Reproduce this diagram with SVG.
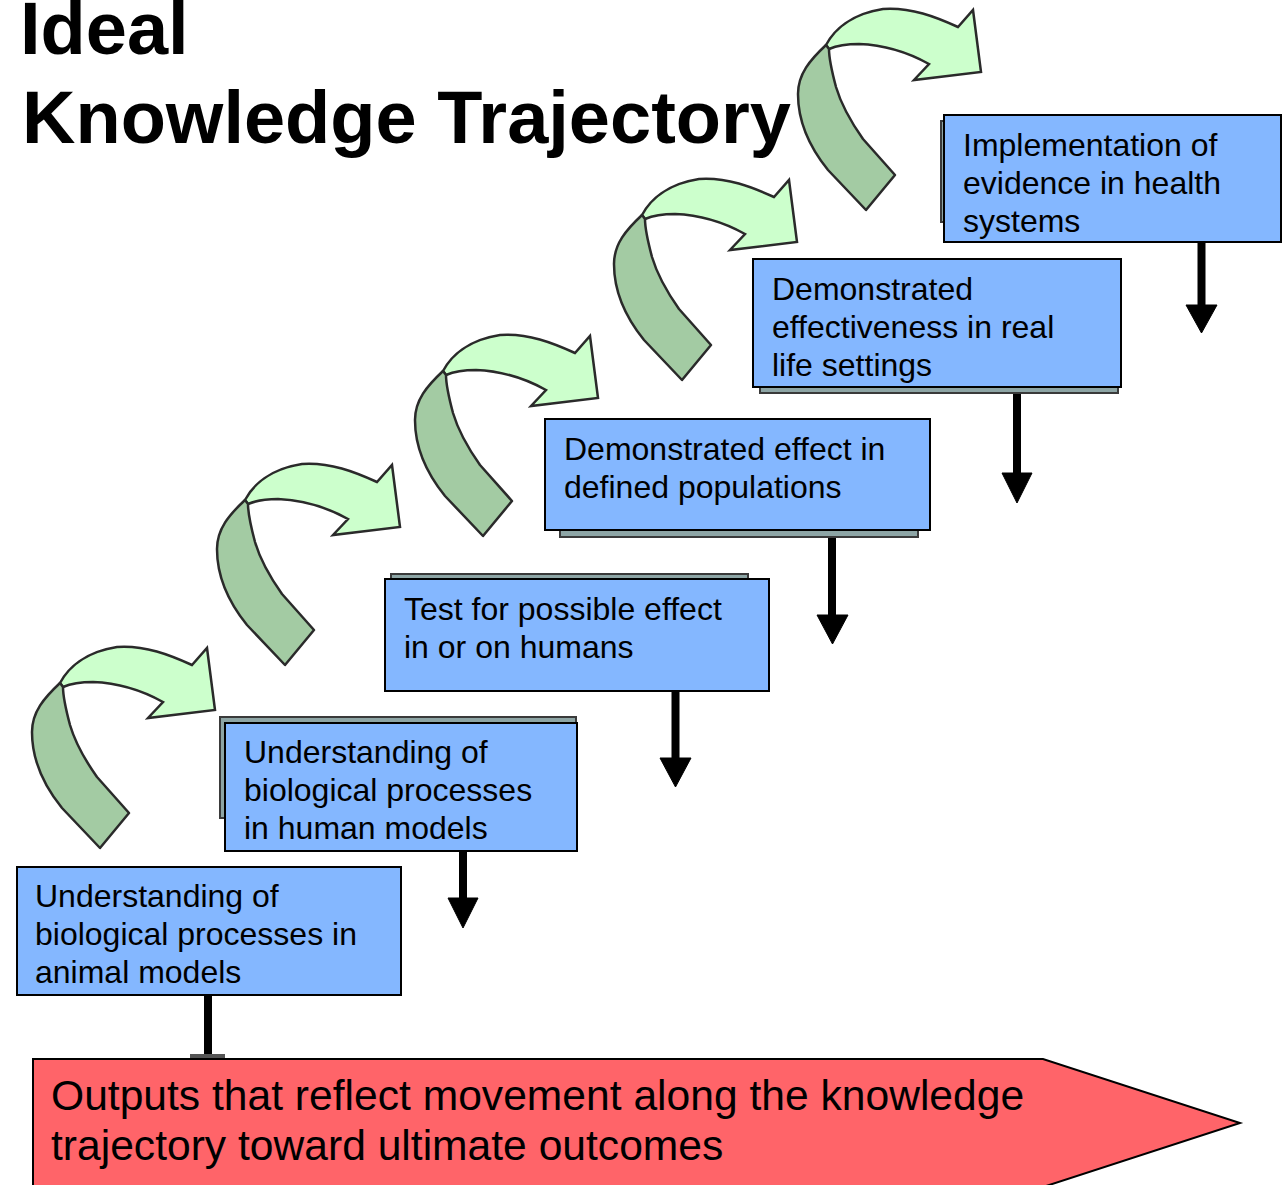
<svg xmlns="http://www.w3.org/2000/svg" width="1282" height="1185" viewBox="0 0 1282 1185">
<style>
.box{fill:#84B7FF;stroke:#000;stroke-width:2}
.shd{fill:#8DA5A5;stroke:#3a3a3a;stroke-width:2}
.t{font-family:"Liberation Sans",Arial,sans-serif;font-size:32px;fill:#000}
.title{font-family:"Liberation Sans",Arial,sans-serif;font-size:74px;font-weight:bold;fill:#000}
.rt{font-family:"Liberation Sans",Arial,sans-serif;font-size:42.6px;fill:#000}
.shaft{stroke:#000;stroke-width:8;fill:none}
.head{fill:#000;stroke:#000;stroke-width:1;stroke-linejoin:miter}
.dk{fill:#A3CBA3;stroke:#2a2a2a;stroke-width:2.5;stroke-linejoin:round}
.lt{fill:#CCFFCC;stroke:#2a2a2a;stroke-width:2.5;stroke-linejoin:miter}
</style>
<defs>
<g id="curve">
<path class="lt" d="M60,683 C68,668 85,652 117,647 C145,645 170,655 192,665 L207,648 L215,710 L148,718 L163,702 C145,692 120,683 93,682 C80,682 70,684 63,687 Z"/>
<path class="dk" d="M60,683 C44,698 32,712 32,732 C32,762 45,787 62,808 L100,848 L129,813 L97,777 C85,760 75,742 70,725 C66,710 63,698 63,687 Z"/>
</g>
</defs>
<rect width="1282" height="1185" fill="#fff"/>
<g id="title">
<text class="title" x="20" y="54">Ideal</text>
<text class="title" x="22" y="143">Knowledge Trajectory</text>
</g>
<g id="curved-arrows">
<use href="#curve"/>
<use href="#curve" transform="translate(185,-183)"/>
<use href="#curve" transform="translate(383,-312)"/>
<use href="#curve" transform="translate(582,-468)"/>
<use href="#curve" transform="translate(766,-638)"/>
</g>
<g id="connectors">
<line class="shaft" x1="208" y1="995" x2="208" y2="1058"/>
<rect x="190" y="1054" width="35" height="5" fill="#555"/>
<line class="shaft" x1="463" y1="851" x2="463" y2="900"/>
<polygon class="head" points="448,898 478,898 463,928"/>
<line class="shaft" x1="675.5" y1="691" x2="675.5" y2="760"/>
<polygon class="head" points="660,758 691,758 675.5,787"/>
<line class="shaft" x1="832" y1="537" x2="832" y2="617"/>
<polygon class="head" points="817,615 848,615 832.5,644"/>
<line class="shaft" x1="1017" y1="393" x2="1017" y2="475"/>
<polygon class="head" points="1002,473 1032,473 1017,503"/>
<line class="shaft" x1="1201.5" y1="243" x2="1201.5" y2="307"/>
<polygon class="head" points="1186,305 1217,305 1201.5,333"/>
</g>
<g id="node-animal">
<rect class="box" x="17" y="867" width="384" height="128"/>
<text class="t" x="35" y="907">Understanding of</text>
<text class="t" x="35" y="945">biological processes in</text>
<text class="t" x="35" y="983">animal models</text>
</g>
<g id="node-human">
<rect class="shd" x="220" y="717" width="356" height="101"/>
<rect class="box" x="225" y="723" width="352" height="128"/>
<text class="t" x="244" y="763">Understanding of</text>
<text class="t" x="244" y="801">biological processes</text>
<text class="t" x="244" y="839">in human models</text>
</g>
<g id="node-test">
<rect class="shd" x="391" y="574" width="357" height="50"/>
<rect class="box" x="385" y="579" width="384" height="112"/>
<text class="t" x="404" y="620">Test for possible effect</text>
<text class="t" x="404" y="658">in or on humans</text>
</g>
<g id="node-populations">
<rect class="shd" x="560" y="425" width="358" height="112"/>
<rect class="box" x="545" y="419" width="385" height="111"/>
<text class="t" x="564" y="460">Demonstrated effect in</text>
<text class="t" x="564" y="498">defined populations</text>
</g>
<g id="node-effectiveness">
<rect class="shd" x="760" y="265" width="358" height="128"/>
<rect class="box" x="753" y="259" width="368" height="128"/>
<text class="t" x="772" y="300">Demonstrated</text>
<text class="t" x="772" y="338">effectiveness in real</text>
<text class="t" x="772" y="376">life settings</text>
</g>
<g id="node-implementation">
<rect class="shd" x="941" y="121" width="100" height="101"/>
<rect class="box" x="944" y="115" width="337" height="127"/>
<text class="t" x="963" y="156">Implementation of</text>
<text class="t" x="963" y="194">evidence in health</text>
<text class="t" x="963" y="232">systems</text>
</g>
<g id="node-outputs">
<polygon points="33,1059 1043,1059 1240,1123 1043,1187 33,1187" fill="#FF6469" stroke="#000" stroke-width="2"/>
<text class="rt" x="51" y="1110">Outputs that reflect movement along the knowledge</text>
<text class="rt" x="51" y="1160">trajectory toward ultimate outcomes</text>
</g>
</svg>
